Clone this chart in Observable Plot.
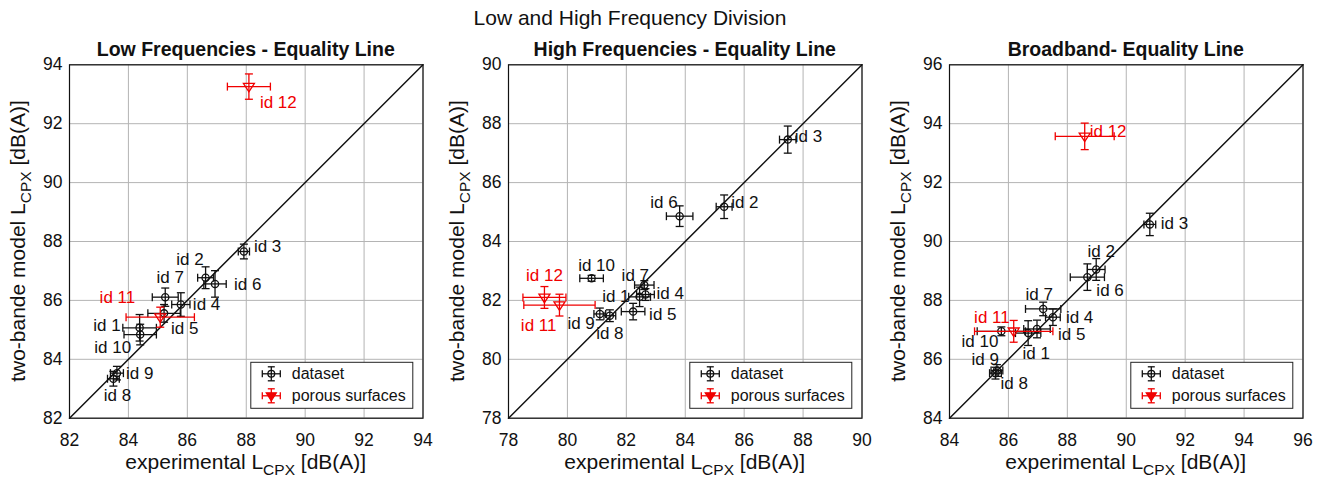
<!DOCTYPE html>
<html><head><meta charset="utf-8">
<script src="https://cdn.jsdelivr.net/npm/d3@7"></script>
<script src="https://cdn.jsdelivr.net/npm/@observablehq/plot@0.6"></script>
<style>
body{margin:0;background:#fff;font-family:"Liberation Sans",Arial,Helvetica,sans-serif;}
#wrap{position:relative;width:1327px;height:487px;overflow:hidden;background:#fff;}
#title{position:absolute;top:6px;left:0;width:1260px;text-align:center;font-size:21px;line-height:24px;color:#111;}
#wrap svg{position:absolute;top:0;}
</style></head><body>
<div id="wrap"><div id="title">Low and High Frequency Division</div></div>
<script>
// ---- data ----
const ids = ["id 1","id 2","id 3","id 4","id 5","id 6","id 7","id 8","id 9","id 10","id 11","id 12"];
const groups = ["dataset","dataset","dataset","dataset","dataset","dataset","dataset","dataset","dataset","dataset","porous surfaces","porous surfaces"];
const legendLabels = ["dataset","porous surfaces"];
const panelTitles = ["Low Frequencies - Equality Line","High Frequencies - Equality Line","Broadband- Equality Line"];

const lowX    = [84.38, 86.62, 87.92, 85.78, 85.21, 86.94, 85.25, 83.49, 83.61, 84.40, 85.08, 88.09];
const lowY    = [85.07, 86.77, 87.66, 85.86, 85.56, 86.56, 86.11, 83.34, 83.53, 84.84, 85.43, 93.26];
const lowXErr = [0.57, 0.27, 0.19, 0.31, 0.55, 0.38, 0.44, 0.20, 0.22, 0.55, 1.16, 0.73];
const lowYErr = [0.45, 0.37, 0.25, 0.40, 0.30, 0.45, 0.31, 0.25, 0.23, 0.35, 0.34, 0.43];

const highX    = [82.45, 85.32, 87.48, 82.65, 82.23, 83.81, 82.61, 81.44, 81.10, 80.82, 79.73, 79.22];
const highY    = [82.12, 85.18, 87.46, 82.20, 81.62, 84.86, 82.52, 81.48, 81.54, 82.75, 81.84, 82.10];
const highXErr = [0.37, 0.27, 0.28, 0.30, 0.40, 0.45, 0.33, 0.20, 0.20, 0.40, 1.21, 0.73];
const highYErr = [0.33, 0.40, 0.46, 0.20, 0.28, 0.35, 0.15, 0.20, 0.20, 0.10, 0.37, 0.37];

const broadX    = [86.67, 88.98, 90.80, 87.51, 86.97, 88.68, 87.18, 85.56, 85.61, 85.76, 86.18, 88.59];
const broadY    = [86.89, 89.05, 90.58, 87.43, 87.03, 88.79, 87.71, 85.53, 85.62, 86.95, 86.95, 93.57];
const broadXErr = [0.43, 0.30, 0.20, 0.25, 0.45, 0.58, 0.60, 0.20, 0.20, 0.82, 1.33, 1.00];
const broadYErr = [0.42, 0.37, 0.38, 0.28, 0.30, 0.45, 0.23, 0.20, 0.20, 0.15, 0.37, 0.45];

const lowTicks   = [82, 84, 86, 88, 90, 92, 94];
const highTicks  = [78, 80, 82, 84, 86, 88, 90];
const broadTicks = [84, 86, 88, 90, 92, 94, 96];

// label placement (pixel offsets and anchor) — layout only
const lowLabelPos = [[-19,-2,"end"],[-2,-18,"end"],[10,-5,"start"],[12,0,"start"],[7,15,"start"],[19,1,"start"],[5,-20,"middle"],[4,17,"middle"],[9,0,"start"],[-9,13,"end"],[-25,-20,"end"],[11,16,"start"]];
const highLabelPos = [[-10,0,"end"],[7,-4,"start"],[7,-3,"start"],[11,-1,"start"],[16,3,"start"],[-2,-14,"end"],[-9,-10,"middle"],[0,18,"middle"],[-5,10,"end"],[5,-13,"middle"],[-3,20,"end"],[0,-22,"middle"]];
const broadLabelPos = [[8,20,"middle"],[5,-18,"middle"],[11,-1,"start"],[13,0,"start"],[21,6,"start"],[9,13,"start"],[-4,-14,"middle"],[5,10,"start"],[2,-11,"end"],[-3,10,"end"],[-4,-14,"end"],[5,-5,"start"]];

// ---- layout ----
const FONT = '"Liberation Sans",Arial,Helvetica,sans-serif';
const ML = 70, MR = 10, MT = 64.3, MB = 69.3, H = 487, FW = 353.5;
const panelLefts = [69.4, 508.3, 949.3];
const RED = "#f00000";

const vCap = {draw(c, size){const r = Math.sqrt(size/Math.PI); c.moveTo(0,-r); c.lineTo(0,r);}};
const hCap = {draw(c, size){const r = Math.sqrt(size/Math.PI); c.moveTo(-r,0); c.lineTo(r,0);}};
const triDown = {draw(c, size){const r = Math.sqrt(size/Math.PI); c.moveTo(-r,-r*0.6); c.lineTo(r,-r*0.6); c.lineTo(0,r*0.95); c.closePath();}};

function errMarks(rows, color, marker){
  const sw = 1.3;
  return [
    Plot.link(rows, {x1: d => d.x - d.ex, x2: d => d.x + d.ex, y1: "y", y2: "y", stroke: color, strokeWidth: sw}),
    Plot.link(rows, {x1: "x", x2: "x", y1: d => d.y - d.ey, y2: d => d.y + d.ey, stroke: color, strokeWidth: sw}),
    Plot.dot(rows, {x: d => d.x - d.ex, y: "y", symbol: vCap, r: 4, stroke: color, strokeWidth: sw, fill: "none"}),
    Plot.dot(rows, {x: d => d.x + d.ex, y: "y", symbol: vCap, r: 4, stroke: color, strokeWidth: sw, fill: "none"}),
    Plot.dot(rows, {x: "x", y: d => d.y - d.ey, symbol: hCap, r: 4, stroke: color, strokeWidth: sw, fill: "none"}),
    Plot.dot(rows, {x: "x", y: d => d.y + d.ey, symbol: hCap, r: 4, stroke: color, strokeWidth: sw, fill: "none"}),
    marker === "circle"
      ? Plot.dot(rows, {x: "x", y: "y", r: 3.6, stroke: color, strokeWidth: sw, fill: "none"})
      : Plot.dot(rows, {x: "x", y: "y", r: 5.5, symbol: triDown, stroke: color, strokeWidth: sw, fill: "none"})
  ];
}

function makePanel(k, X, Y, XE, YE, ticks, labelPos){
  const rows = ids.map((id, i) => ({id, group: groups[i], x: X[i], y: Y[i], ex: XE[i], ey: YE[i], pos: labelPos[i]}));
  const ds = rows.filter(d => d.group === legendLabels[0]);
  const ps = rows.filter(d => d.group === legendLabels[1]);
  const dom = [ticks[0], ticks[ticks.length - 1]];
  const W = ML + FW + MR;
  const svg = Plot.plot({
    width: W, height: H,
    marginLeft: ML, marginRight: MR, marginTop: MT, marginBottom: MB,
    style: {fontFamily: FONT, fontSize: "17.5px", color: "#111", background: "transparent", overflow: "visible"},
    x: {domain: dom, ticks: ticks, tickSize: 0, tickPadding: 15, label: null, tickFormat: d => String(d)},
    y: {domain: dom, ticks: ticks, tickSize: 0, tickPadding: 7, label: null, tickFormat: d => String(d)},
    marks: [
      Plot.ruleX(ticks, {stroke: "#b4b4b4", strokeWidth: 1}),
      Plot.ruleY(ticks, {stroke: "#b4b4b4", strokeWidth: 1}),
      Plot.line(dom, {x: d => d, y: d => d, stroke: "#111", strokeWidth: 1.5}),
      ...errMarks(ds, "#111", "circle"),
      ...errMarks(ps, RED, "triangle"),
      ...rows.map(r => Plot.text([r], {x: "x", y: "y", text: "id", dx: r.pos[0], dy: r.pos[1], textAnchor: r.pos[2],
        fill: r.group === legendLabels[0] ? "#111" : RED, fontSize: 17, fontFamily: FONT})),
      Plot.frame({stroke: "#111", strokeWidth: 1.2})
    ]
  });
  svg.style.left = (panelLefts[k] - ML) + "px";
  const s = d3.select(svg);
  const cx = ML + FW / 2;
  // panel title
  s.append("text").attr("x", cx).attr("y", 55.5).attr("text-anchor", "middle")
    .attr("font-weight", "bold").attr("font-size", 19.5).attr("font-family", FONT).attr("fill", "#111")
    .text(panelTitles[k]);
  // x label
  const xl = s.append("text").attr("x", cx).attr("y", 469).attr("text-anchor", "middle")
    .attr("font-size", 21).attr("font-family", FONT).attr("fill", "#111");
  xl.append("tspan").text("experimental L");
  xl.append("tspan").attr("font-size", 15.5).attr("dy", 6).text("CPX");
  xl.append("tspan").attr("dy", -6).text(" [dB(A)]");
  // y label
  const cy = MT + (H - MT - MB) / 2;
  const yl = s.append("text").attr("transform", `translate(${ML - 44.5},${cy}) rotate(-90)`).attr("text-anchor", "middle")
    .attr("font-size", 21).attr("font-family", FONT).attr("fill", "#111");
  yl.append("tspan").text("two-bande model L");
  yl.append("tspan").attr("font-size", 15.5).attr("dy", 6).text("CPX");
  yl.append("tspan").attr("dy", -6).text(" [dB(A)]");
  // legend
  const bw = 162, bh = 46;
  const bx = ML + FW - 9.7 - bw, by = H - MB - 9.4 - bh;
  const g = s.append("g").attr("text-anchor", "start");
  g.append("rect").attr("x", bx).attr("y", by).attr("width", bw).attr("height", bh)
    .attr("fill", "white").attr("stroke", "#222").attr("stroke-width", 1);
  legendLabels.forEach((lab, i) => {
    const col = i === 0 ? "#111" : RED;
    const ix = bx + 20.5, iy = by + 11.5 + i * 22;
    const gi = g.append("g").attr("stroke", col).attr("stroke-width", 1.3).attr("fill", "none");
    gi.append("line").attr("x1", ix - 9).attr("x2", ix + 9).attr("y1", iy).attr("y2", iy);
    gi.append("line").attr("x1", ix).attr("x2", ix).attr("y1", iy - 7).attr("y2", iy + 7);
    gi.append("line").attr("x1", ix - 9).attr("x2", ix - 9).attr("y1", iy - 3.5).attr("y2", iy + 3.5);
    gi.append("line").attr("x1", ix + 9).attr("x2", ix + 9).attr("y1", iy - 3.5).attr("y2", iy + 3.5);
    gi.append("line").attr("x1", ix - 3.5).attr("x2", ix + 3.5).attr("y1", iy - 7).attr("y2", iy - 7);
    gi.append("line").attr("x1", ix - 3.5).attr("x2", ix + 3.5).attr("y1", iy + 7).attr("y2", iy + 7);
    if (i === 0) gi.append("circle").attr("cx", ix).attr("cy", iy).attr("r", 3.4);
    else gi.append("path").attr("d", `M${ix-5},${iy-3} L${ix+5},${iy-3} L${ix},${iy+5} Z`).attr("fill", col);
    g.append("text").attr("x", bx + 41).attr("y", iy).attr("dy", "0.35em").attr("font-size", 16)
      .attr("text-anchor", "start").attr("font-family", FONT).attr("fill", "#111").text(lab);
  });
  document.getElementById("wrap").appendChild(svg);
}

makePanel(0, lowX, lowY, lowXErr, lowYErr, lowTicks, lowLabelPos);
makePanel(1, highX, highY, highXErr, highYErr, highTicks, highLabelPos);
makePanel(2, broadX, broadY, broadXErr, broadYErr, broadTicks, broadLabelPos);
</script>
</body></html>
